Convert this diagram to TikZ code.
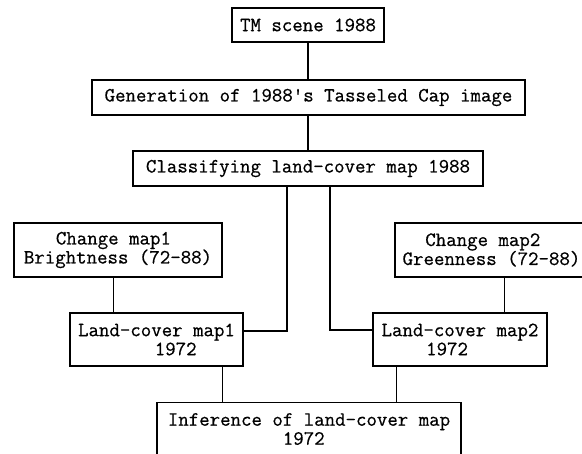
\documentclass[tikz,border=0pt]{standalone}
\usepackage{fontspec}
\newfontfamily\refmono[FakeBold=0.6]{Latin Modern Mono}
\begin{document}
\begin{tikzpicture}[x=1pt,y=-1pt,
  box/.style={draw, line width=1.3pt, inner sep=0pt, align=left,
    font=\refmono\fontsize{20.3}{19}\selectfont},
  txt/.style={inner sep=0pt, align=left, font=\refmono\fontsize{20.3}{19}\selectfont},
  thicklink/.style={line width=1.4pt},
  thinlink/.style={line width=0.8pt}]
\useasboundingbox (0,0) rectangle (582,454);
\clip (0,0) rectangle (582,454);
% boxes
\node[box, minimum width=152pt, minimum height=34pt] (tm) at (308,25) {TM scene 1988};
\node[box, minimum width=433pt, minimum height=35pt] (gen) at (308.5,97.5) {Generation of 1988\textquotesingle s Tasseled Cap image};
\node[box, minimum width=350pt, minimum height=35pt] (cls) at (308,168.5) {Classifying land-cover map 1988};
\node[box, minimum width=208pt, minimum height=54pt] (cm1) at (118,250) {\hspace*{32pt}Change map1\\Brightness (72-88)};
\node[box, minimum width=193pt, minimum height=54pt] (cm2) at (491.5,250) {\hspace*{22.7pt}Change map2\\Greenness (72-88)};
\node[box, minimum width=173pt, minimum height=53pt] (lc1) at (156.5,339.5) {Land-cover map1\\\hspace*{76.7pt}1972};
\node[box, minimum width=174pt, minimum height=53pt] (lc2) at (460,339.5) {Land-cover map2\\\hspace*{44.6pt}1972};
\node[box, minimum width=304pt, minimum height=80pt, anchor=north] (inf) at (309,402) {};
\node[txt, anchor=north] (inftext) at (309,413) {Inference of land-cover map\\\hspace*{115pt}1972};
% connector anchors
\coordinate (c1) at (287,331);
\coordinate (c2) at (330,330);
\coordinate (c3) at (113,0);
\coordinate (c4) at (504,0);
\coordinate (c5) at (222,0);
\coordinate (c6) at (396,0);
% connectors
\draw[thicklink] (tm.south) -- (tm.south |- gen.north);
\draw[thicklink] (gen.south -| tm.south) -- (tm.south |- cls.north);
\draw[thicklink] (c1 |- cls.south) -- (c1) -- (c1 -| lc1.east);
\draw[thicklink] (c2 |- cls.south) -- (c2) -- (c2 -| lc2.west);
\draw[thinlink] (c3 |- cm1.south) -- (c3 |- lc1.north);
\draw[thinlink] (c4 |- cm2.south) -- (c4 |- lc2.north);
\draw[thinlink] (c5 |- lc1.south) -- (c5 |- inf.north);
\draw[thinlink] (c6 |- lc2.south) -- (c6 |- inf.north);
\end{tikzpicture}
\end{document}
